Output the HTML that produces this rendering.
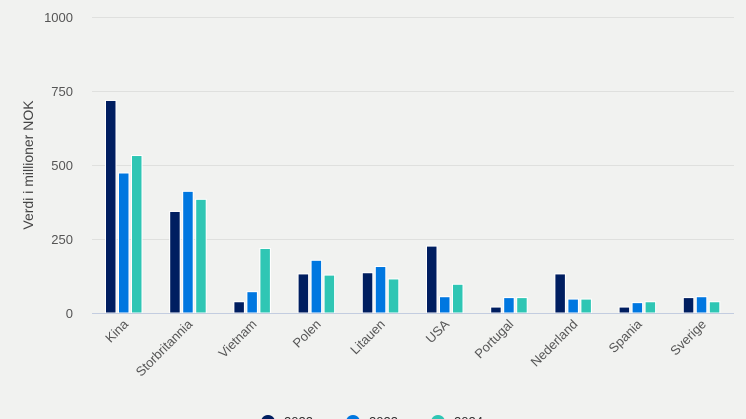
<!DOCTYPE html>
<html><head><meta charset="utf-8"><style>
html,body{margin:0;padding:0;background:#f1f2f0;}
svg{display:block;font-family:"Liberation Sans",sans-serif;}
</style></head><body>
<svg width="746" height="419" viewBox="0 0 746 419" xmlns="http://www.w3.org/2000/svg">
<rect width="746" height="419" fill="#f1f2f0"/>
<g stroke="#dfe0de" stroke-width="1">
<line x1="92" x2="734" y1="17.5" y2="17.5"/>
<line x1="92" x2="734" y1="91.5" y2="91.5"/>
<line x1="92" x2="734" y1="165.5" y2="165.5"/>
<line x1="92" x2="734" y1="239.5" y2="239.5"/>
</g>
<g font-size="13" fill="#555" text-anchor="end">
<text x="73" y="22">1000</text>
<text x="73" y="96">750</text>
<text x="73" y="170">500</text>
<text x="73" y="244">250</text>
<text x="73" y="318">0</text>
</g>
<text transform="translate(33,165) rotate(-90)" font-size="14" fill="#444" text-anchor="middle">Verdi i millioner NOK</text>
<g id="bars" stroke="#ffffff" stroke-width="1"></g>
<line x1="92" x2="734" y1="313.5" y2="313.5" stroke="#c3cde0" stroke-width="1"/>
<g id="labels" font-size="13" fill="#555" text-anchor="end"></g>
<g font-size="13" fill="#333">
<circle cx="268" cy="422" r="7" fill="#001e60"/><text x="284" y="426">2022</text>
<circle cx="353" cy="422" r="7" fill="#0077e0"/><text x="369" y="426">2023</text>
<circle cx="438" cy="422" r="7" fill="#2fc6b4"/><text x="454" y="426">2024</text>
</g>
<script>
var names=["Kina","Storbritannia","Vietnam","Polen","Litauen","USA","Portugal","Nederland","Spania","Sverige"];
var data=[[718,473,532],[343,411,384],[38,72,218],[132,178,128],[136,157,115],[226,55,97],[20,52,52],[132,47,47],[20,35,38],[52,55,38]];
var cols=["#001e60","#0077e0","#2fc6b4"];
var b=document.getElementById("bars"),l=document.getElementById("labels"),ns="http://www.w3.org/2000/svg";
for(var i=0;i<10;i++){var c=124+i*64.2;
for(var j=0;j<3;j++){var h=data[i][j]*0.296;var r=document.createElementNS(ns,"rect");
r.setAttribute("x",c-18.5+j*13);r.setAttribute("y",313-h);r.setAttribute("width",10.5);r.setAttribute("height",h);r.setAttribute("fill",cols[j]);b.appendChild(r);}
var t=document.createElementNS(ns,"text");t.setAttribute("transform","translate("+(c+5)+",325) rotate(-45)");t.textContent=names[i];l.appendChild(t);}
</script>
</svg>
</body></html>
